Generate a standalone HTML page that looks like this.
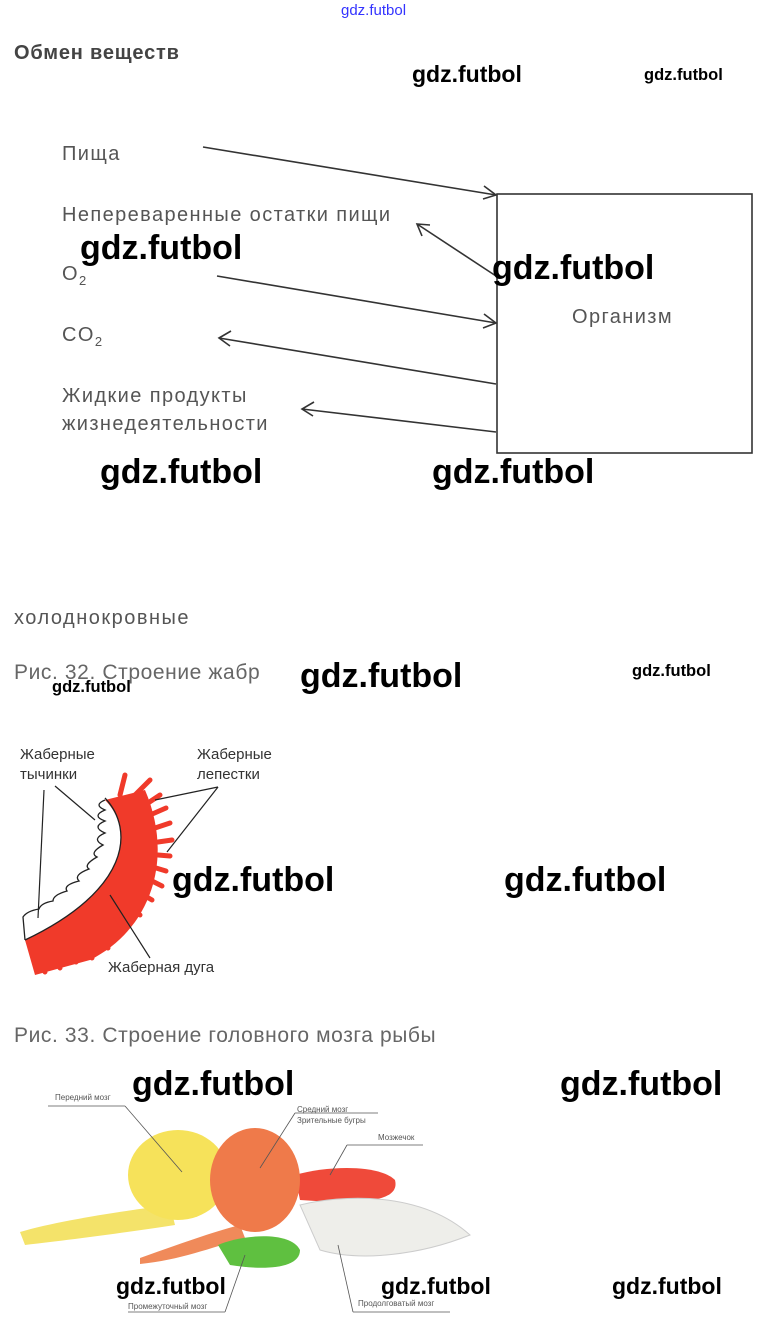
<!DOCTYPE html>
<html><head><meta charset="utf-8"><style>
body{margin:0;width:763px;height:1337px;background:#fff;position:relative;overflow:hidden;font-family:"Liberation Sans",sans-serif}
.t{position:absolute;white-space:nowrap;line-height:1}
.w{position:absolute;white-space:nowrap;line-height:1;font-weight:bold;color:#000;font-family:"Liberation Sans",sans-serif}
.L{font-size:34px}.M{font-size:23px}.S{font-size:16.5px}
.g{color:#555;font-size:20px;letter-spacing:1.4px}
.c{color:#666;font-size:21px;letter-spacing:0.6px}
</style></head><body>
<div class="t" style="left:341px;top:3px;font-size:15px;color:#33f">gdz.futbol</div>
<div class="t" style="left:14px;top:43px;font-size:20px;font-weight:bold;color:#444;letter-spacing:0.8px">Обмен веществ</div>

<div class="t g" style="left:62px;top:144px">Пища</div>
<div class="t g" style="left:62px;top:205px">Непереваренные остатки пищи</div>
<div class="t g" style="left:62px;top:264px">O<sub style="font-size:13px">2</sub></div>
<div class="t g" style="left:62px;top:325px">CO<sub style="font-size:13px">2</sub></div>
<div class="t g" style="left:62px;top:382px;line-height:28px">Жидкие продукты<br>жизнедеятельности</div>
<div class="t g" style="left:572px;top:307px">Организм</div>

<svg style="position:absolute;left:0;top:0" width="763" height="1337">
<g stroke="#333" stroke-width="1.6" fill="none">
<rect x="497" y="194" width="255" height="259"/>
<line x1="203" y1="147" x2="496" y2="195"/><polyline points="484,186 496,195 483,199"/>
<line x1="496" y1="276" x2="417" y2="224"/><polyline points="422,236 417,224 430,225"/>
<line x1="217" y1="276" x2="496" y2="323"/><polyline points="484,314 496,323 483,328"/>
<line x1="496" y1="384" x2="219" y2="338"/><polyline points="231,331 219,338 230,346"/>
<line x1="496" y1="432" x2="302" y2="409"/><polyline points="314,402 302,409 313,416"/>
</g>
<!-- gill -->
<g>
<path d="M105 800 C135 830 130 890 25 940 L35 975 L90 960 C150 930 175 860 145 790 Z" fill="#f03a2a"/>
<g stroke="#f03a2a" stroke-width="5" stroke-linecap="round">
<line x1="120" y1="795" x2="125" y2="775"/><line x1="135" y1="795" x2="150" y2="780"/>
<line x1="145" y1="805" x2="160" y2="795"/>
<line x1="150" y1="815" x2="166" y2="808"/><line x1="155" y1="828" x2="170" y2="823"/>
<line x1="158" y1="842" x2="172" y2="840"/><line x1="158" y1="855" x2="170" y2="856"/>
<line x1="156" y1="868" x2="166" y2="871"/><line x1="150" y1="880" x2="162" y2="886"/>
<line x1="140" y1="893" x2="152" y2="900"/><line x1="128" y1="905" x2="140" y2="915"/>
<line x1="115" y1="915" x2="125" y2="930"/><line x1="100" y1="925" x2="108" y2="948"/>
<line x1="85" y1="930" x2="92" y2="958"/><line x1="70" y1="935" x2="76" y2="962"/>
<line x1="55" y1="940" x2="60" y2="968"/><line x1="40" y1="944" x2="45" y2="972"/>
</g>
<path d="M105 800 q-12 5 0 10 q-14 6 0 11 q-14 6 0 12 q-14 6 -2 12 q-14 8 -6 12 q-14 8 -8 12 q-16 6 -10 12 q-16 4 -12 10 q-14 4 -14 10 q-12 2 -14 8 q-12 2 -16 8 L25 940" fill="none" stroke="#222" stroke-width="1.3"/>
<path d="M105 798 C135 830 130 890 25 940" fill="none" stroke="#222" stroke-width="1.3"/>
<g stroke="#222" stroke-width="1.2" fill="none">
<line x1="44" y1="790" x2="38" y2="918"/>
<line x1="55" y1="786" x2="95" y2="820"/>
<line x1="218" y1="787" x2="155" y2="800"/><line x1="218" y1="787" x2="167" y2="852"/>
<line x1="110" y1="895" x2="150" y2="958"/>
</g>
</g>
<!-- brain -->
<g>
<path d="M20 1232 C60 1220 130 1210 170 1205 L175 1225 C130 1232 70 1240 25 1245 Z" fill="#f4e36a"/>
<ellipse cx="178" cy="1175" rx="50" ry="45" fill="#f6e25a"/>
<path d="M140 1258 C190 1240 220 1230 240 1225 L245 1238 C210 1248 180 1260 140 1264 Z" fill="#f08a5a"/>
<path d="M295 1175 C330 1165 380 1165 395 1180 C400 1200 370 1205 300 1200 Z" fill="#ef4a3a"/>
<path d="M300 1205 C340 1195 420 1190 470 1235 C420 1255 360 1262 320 1250 Z" fill="#eeeeea" stroke="#ccc"/>
<path d="M218 1245 C240 1235 290 1230 300 1250 C300 1270 260 1270 230 1265 Z" fill="#5fc040"/>
<ellipse cx="255" cy="1180" rx="45" ry="52" fill="#ef7a4a"/>
<g stroke="#555" stroke-width="0.8" fill="none">
<line x1="48" y1="1106" x2="125" y2="1106"/><line x1="125" y1="1106" x2="182" y2="1172"/>
<line x1="295" y1="1113" x2="378" y2="1113"/><line x1="295" y1="1113" x2="260" y2="1168"/>
<line x1="347" y1="1145" x2="423" y2="1145"/><line x1="347" y1="1145" x2="330" y2="1175"/>
<line x1="128" y1="1312" x2="225" y2="1312"/><line x1="225" y1="1312" x2="245" y2="1255"/>
<line x1="353" y1="1312" x2="450" y2="1312"/><line x1="353" y1="1312" x2="338" y2="1245"/>
</g>
</g>
</svg>
<div class="t" style="left:20px;top:745px;font-size:15px;color:#333;line-height:20px">Жаберные<br>тычинки</div>
<div class="t" style="left:197px;top:745px;font-size:15px;color:#333;line-height:20px">Жаберные<br>лепестки</div>
<div class="t" style="left:108px;top:960px;font-size:15px;color:#333">Жаберная дуга</div>
<div class="t" style="left:55px;top:1094px;font-size:8px;color:#555">Передний мозг</div>
<div class="t" style="left:297px;top:1104px;font-size:8px;color:#555;line-height:11px">Средний мозг<br>Зрительные бугры</div>
<div class="t" style="left:378px;top:1134px;font-size:8px;color:#555">Мозжечок</div>
<div class="t" style="left:128px;top:1303px;font-size:8px;color:#555">Промежуточный мозг</div>
<div class="t" style="left:358px;top:1300px;font-size:8px;color:#555">Продолговатый мозг</div>

<div class="t" style="left:14px;top:608px;color:#555;font-size:20px;letter-spacing:1.5px">холоднокровные</div>
<div class="t c" style="left:14px;top:662px">Рис. 32. Строение жабр</div>
<div class="t c" style="left:14px;top:1025px">Рис. 33. Строение головного мозга рыбы</div>

<div class="w M" style="left:412px;top:63px">gdz.futbol</div>
<div class="w S" style="left:644px;top:67px">gdz.futbol</div>
<div class="w L" style="left:80px;top:231px">gdz.futbol</div>
<div class="w L" style="left:492px;top:251px">gdz.futbol</div>
<div class="w L" style="left:100px;top:455px">gdz.futbol</div>
<div class="w L" style="left:432px;top:455px">gdz.futbol</div>
<div class="w L" style="left:300px;top:659px">gdz.futbol</div>
<div class="w S" style="left:632px;top:663px">gdz.futbol</div>
<div class="w S" style="left:52px;top:679px">gdz.futbol</div>
<div class="w L" style="left:172px;top:863px">gdz.futbol</div>
<div class="w L" style="left:504px;top:863px">gdz.futbol</div>
<div class="w L" style="left:132px;top:1067px">gdz.futbol</div>
<div class="w L" style="left:560px;top:1067px">gdz.futbol</div>
<div class="w M" style="left:116px;top:1275px">gdz.futbol</div>
<div class="w M" style="left:381px;top:1275px">gdz.futbol</div>
<div class="w M" style="left:612px;top:1275px">gdz.futbol</div>
</body></html>
